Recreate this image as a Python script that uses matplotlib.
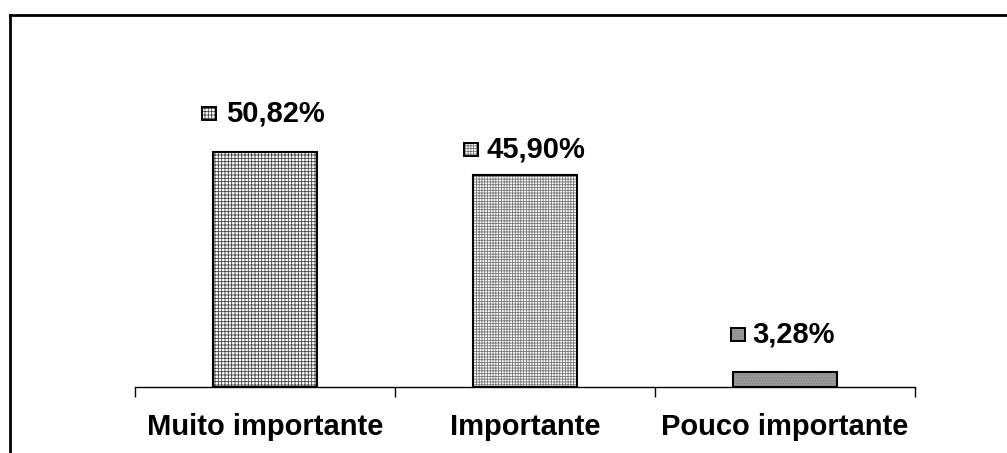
import numpy as np
import matplotlib.pyplot as plt
from matplotlib.patches import Rectangle
from matplotlib.offsetbox import DrawingArea, AnnotationBbox

categorias = ['Muito importante', 'Importante', 'Pouco importante']
valores = [50.82, 45.90, 3.28]
rotulos = ['50,82%', '45,90%', '3,28%']

plt.rcParams['font.family'] = ['Liberation Sans', 'DejaVu Sans']
plt.rcParams['hatch.linewidth'] = 0.6

fig = plt.figure(figsize=(10.07, 4.53), dpi=100)
ax = fig.add_axes([135 / 1007, 66 / 453, 780 / 1007, 347 / 453])

# borda do grafico (so topo e esquerda visiveis)
fig.add_artist(plt.Line2D([9.5 / 1007, 9.5 / 1007], [0, 1 - 14.5 / 453],
                          transform=fig.transFigure, color='black', lw=2))
fig.add_artist(plt.Line2D([9.5 / 1007, 1], [1 - 14.5 / 453, 1 - 14.5 / 453],
                          transform=fig.transFigure, color='black', lw=2))

x = np.arange(len(categorias))
faces = ['white', 'white', '#9a9a9a']
hatches = ['+++++', '++++++', '......']
hcolors = ['#444444', '#777777', '#808080']

for i in range(len(valores)):
    ax.bar(x[i], valores[i], width=0.40, color=faces[i], edgecolor=hcolors[i],
           hatch=hatches[i], linewidth=0)
    ax.bar(x[i], valores[i], width=0.40, color='none', edgecolor='black',
           linewidth=1.5)

# deslocamentos em pixels: (texto, quadradinho, altura)
dx_txt = [10, 11, 9]
dx_sq = [-56, -54, -47]
dy = [38, 25, 37]
for i in range(len(valores)):
    ax.annotate(rotulos[i], (x[i], valores[i]), xytext=(dx_txt[i], dy[i]),
                textcoords='offset pixels', ha='center', va='center',
                fontsize=21, fontweight='bold')
    da = DrawingArea(9.5, 9.5, 0, 0)
    da.add_artist(Rectangle((0, 0), 9.5, 9.5, facecolor=faces[i], edgecolor=hcolors[i],
                            hatch=hatches[i], linewidth=0))
    da.add_artist(Rectangle((0, 0), 9.5, 9.5, facecolor='none', edgecolor='black',
                            linewidth=1.4))
    ab = AnnotationBbox(da, (x[i], valores[i]), xybox=(dx_sq[i], dy[i]),
                        boxcoords='offset pixels', frameon=False, pad=0)
    ax.add_artist(ab)

ax.set_xlim(-0.5, 2.5)
ax.set_ylim(0, 75)
ax.set_xticks([-0.5, 0.5, 1.5, 2.5])
ax.set_xticklabels([])
ax.set_xticks(x, minor=True)
ax.set_xticklabels(categorias, minor=True, fontsize=21, fontweight='bold')
ax.tick_params(axis='x', which='major', length=7, width=1, direction='out')
ax.tick_params(axis='x', which='minor', length=0, pad=19)
ax.set_yticks([])
for s in ['top', 'right', 'left']:
    ax.spines[s].set_visible(False)
ax.spines['bottom'].set_linewidth(1)

fig.savefig('out.png', dpi=100)
